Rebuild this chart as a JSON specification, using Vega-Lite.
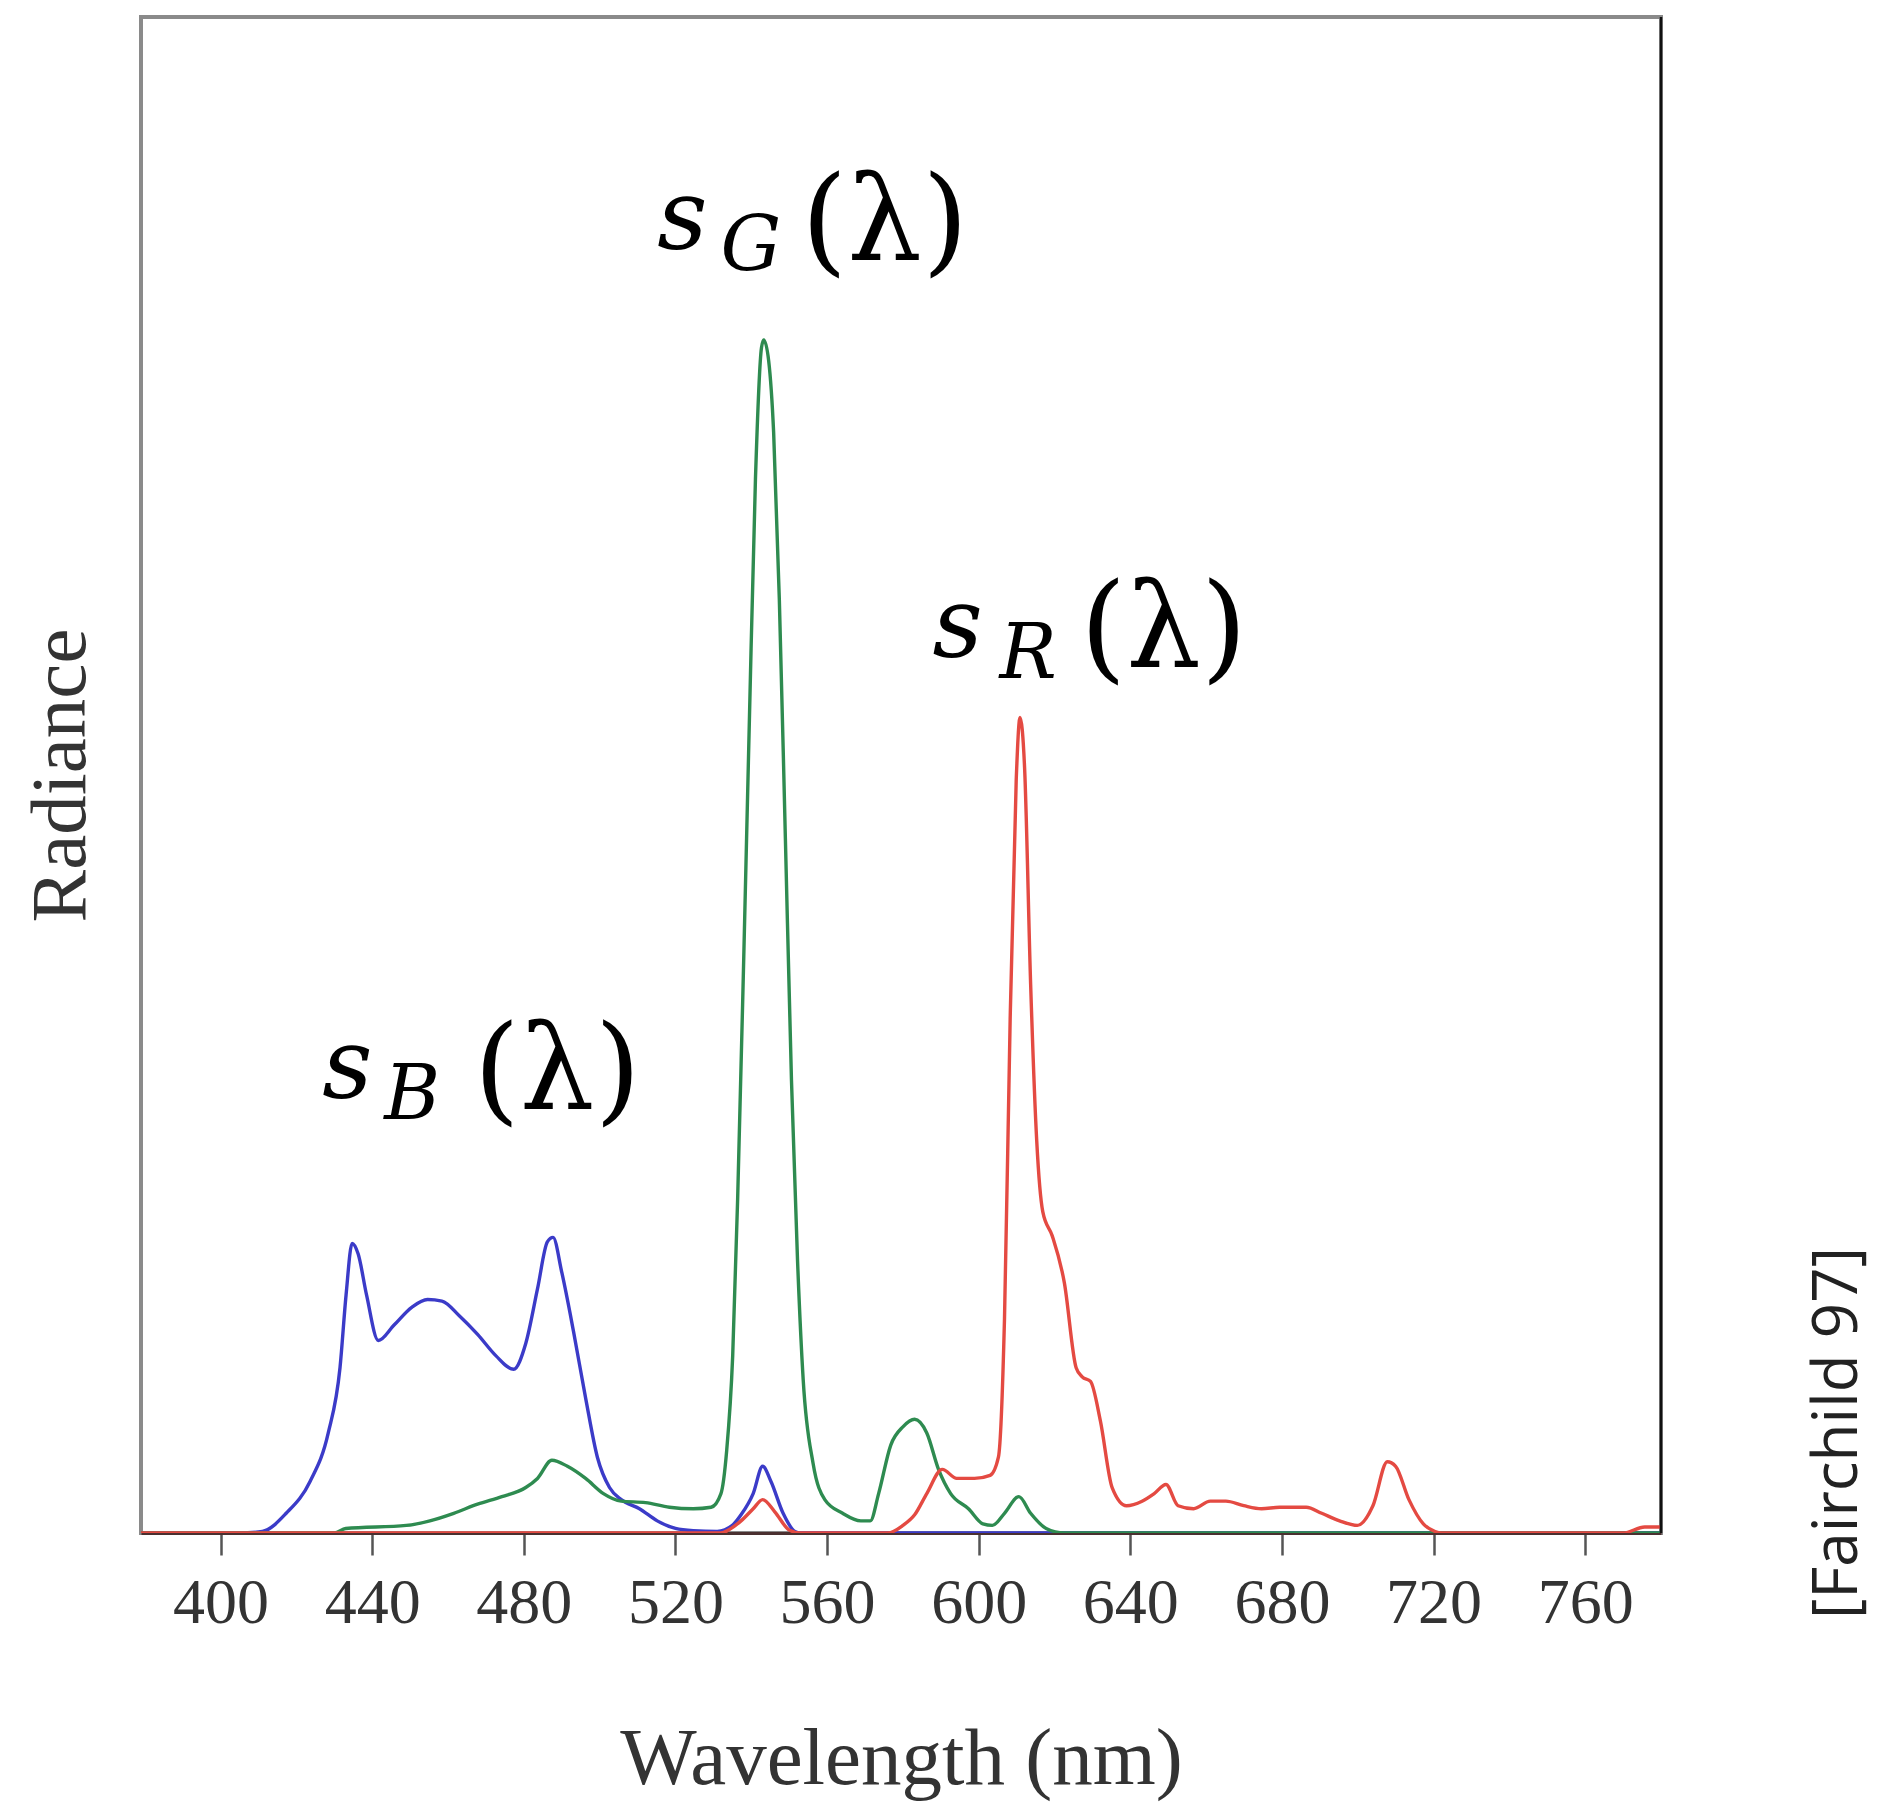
{
  "$schema": "https://vega.github.io/schema/vega-lite/v6.json",
  "autosize": {"type": "none"},
  "padding": {"left": 141, "top": 17, "right": 217, "bottom": 274},
  "width": 1520,
  "height": 1516,
  "background": "white",
  "config": {
    "view": {"stroke": "#8a8a8a", "strokeWidth": 4},
    "font": "Liberation Serif"
  },
  "datasets": {
    "spectra": [
      {"nm": 379, "val": 0, "s": "sB"}, {"nm": 405, "val": 0, "s": "sB"}, {"nm": 411, "val": 0.1, "s": "sB"}, {"nm": 417.3, "val": 1.3, "s": "sB"}, {"nm": 423.6, "val": 3.4, "s": "sB"}, {"nm": 428.4, "val": 6.6, "s": "sB"}, {"nm": 431.5, "val": 10.9, "s": "sB"}, {"nm": 433.1, "val": 15.7, "s": "sB"}, {"nm": 434.7, "val": 19.1, "s": "sB"}, {"nm": 436.3, "val": 18.4, "s": "sB"}, {"nm": 438.5, "val": 15.7, "s": "sB"}, {"nm": 441.6, "val": 12.7, "s": "sB"}, {"nm": 445.7, "val": 13.7, "s": "sB"}, {"nm": 450.5, "val": 14.9, "s": "sB"}, {"nm": 454.6, "val": 15.4, "s": "sB"}, {"nm": 458.4, "val": 15.3, "s": "sB"}, {"nm": 463.1, "val": 14.3, "s": "sB"}, {"nm": 467.8, "val": 13.1, "s": "sB"}, {"nm": 472.6, "val": 11.7, "s": "sB"}, {"nm": 477.3, "val": 10.8, "s": "sB"}, {"nm": 480.5, "val": 12.5, "s": "sB"}, {"nm": 483.6, "val": 16.1, "s": "sB"}, {"nm": 486.2, "val": 19.2, "s": "sB"}, {"nm": 487.7, "val": 19.5, "s": "sB"}, {"nm": 490, "val": 17.2, "s": "sB"}, {"nm": 493.1, "val": 13.3, "s": "sB"}, {"nm": 496.3, "val": 8.9, "s": "sB"}, {"nm": 499.4, "val": 5.0, "s": "sB"}, {"nm": 502.6, "val": 3.0, "s": "sB"}, {"nm": 505.7, "val": 2.2, "s": "sB"}, {"nm": 510.5, "val": 1.6, "s": "sB"}, {"nm": 515.2, "val": 0.8, "s": "sB"}, {"nm": 520, "val": 0.3, "s": "sB"}, {"nm": 524.7, "val": 0.15, "s": "sB"}, {"nm": 531, "val": 0.1, "s": "sB"}, {"nm": 535, "val": 0.5, "s": "sB"}, {"nm": 537.3, "val": 1.2, "s": "sB"}, {"nm": 540.5, "val": 2.6, "s": "sB"}, {"nm": 543, "val": 4.4, "s": "sB"}, {"nm": 545.2, "val": 3.4, "s": "sB"}, {"nm": 548.4, "val": 1.3, "s": "sB"}, {"nm": 551.5, "val": 0.1, "s": "sB"}, {"nm": 553, "val": 0, "s": "sB"}, {"nm": 780, "val": 0, "s": "sB"},

      {"nm": 379, "val": 0, "s": "sG"}, {"nm": 430, "val": 0, "s": "sG"}, {"nm": 433, "val": 0.3, "s": "sG"}, {"nm": 449, "val": 0.5, "s": "sG"}, {"nm": 455.2, "val": 0.8, "s": "sG"}, {"nm": 461.5, "val": 1.3, "s": "sG"}, {"nm": 467.8, "val": 1.9, "s": "sG"}, {"nm": 474.2, "val": 2.4, "s": "sG"}, {"nm": 480.5, "val": 3.0, "s": "sG"}, {"nm": 483.6, "val": 3.6, "s": "sG"}, {"nm": 487.4, "val": 4.8, "s": "sG"}, {"nm": 491.5, "val": 4.4, "s": "sG"}, {"nm": 496.3, "val": 3.6, "s": "sG"}, {"nm": 501, "val": 2.6, "s": "sG"}, {"nm": 505.7, "val": 2.1, "s": "sG"}, {"nm": 512.1, "val": 2.0, "s": "sG"}, {"nm": 518.4, "val": 1.7, "s": "sG"}, {"nm": 524.7, "val": 1.6, "s": "sG"}, {"nm": 529.4, "val": 1.7, "s": "sG"}, {"nm": 532, "val": 2.6, "s": "sG"}, {"nm": 533.5, "val": 5.4, "s": "sG"}, {"nm": 535.1, "val": 11.7, "s": "sG"}, {"nm": 536.4, "val": 22, "s": "sG"}, {"nm": 538, "val": 37.8, "s": "sG"}, {"nm": 539.5, "val": 53.6, "s": "sG"}, {"nm": 541.1, "val": 69.5, "s": "sG"}, {"nm": 542.7, "val": 78.2, "s": "sG"}, {"nm": 543.3, "val": 78.7, "s": "sG"}, {"nm": 544.6, "val": 77.3, "s": "sG"}, {"nm": 545.9, "val": 72.6, "s": "sG"}, {"nm": 547.4, "val": 61.6, "s": "sG"}, {"nm": 549, "val": 45.8, "s": "sG"}, {"nm": 550.6, "val": 29.9, "s": "sG"}, {"nm": 552.2, "val": 18, "s": "sG"}, {"nm": 553.7, "val": 10.1, "s": "sG"}, {"nm": 556.3, "val": 4.6, "s": "sG"}, {"nm": 559.4, "val": 2.2, "s": "sG"}, {"nm": 564.1, "val": 1.3, "s": "sG"}, {"nm": 568.9, "val": 0.8, "s": "sG"}, {"nm": 571.4, "val": 0.8, "s": "sG"}, {"nm": 573.6, "val": 2.6, "s": "sG"}, {"nm": 576.8, "val": 5.8, "s": "sG"}, {"nm": 580, "val": 7.0, "s": "sG"}, {"nm": 583.1, "val": 7.5, "s": "sG"}, {"nm": 586.3, "val": 6.6, "s": "sG"}, {"nm": 589.4, "val": 4.2, "s": "sG"}, {"nm": 592.6, "val": 2.6, "s": "sG"}, {"nm": 597.3, "val": 1.6, "s": "sG"}, {"nm": 601.1, "val": 0.6, "s": "sG"}, {"nm": 603.6, "val": 0.5, "s": "sG"}, {"nm": 606.8, "val": 1.3, "s": "sG"}, {"nm": 610.6, "val": 2.4, "s": "sG"}, {"nm": 613.7, "val": 1.3, "s": "sG"}, {"nm": 617.8, "val": 0.3, "s": "sG"}, {"nm": 622.6, "val": 0, "s": "sG"}, {"nm": 780, "val": 0, "s": "sG"},

      {"nm": 379, "val": 0, "s": "sR"}, {"nm": 532, "val": 0, "s": "sR"}, {"nm": 534, "val": 0.2, "s": "sR"}, {"nm": 537.3, "val": 0.8, "s": "sR"}, {"nm": 540.5, "val": 1.6, "s": "sR"}, {"nm": 543, "val": 2.2, "s": "sR"}, {"nm": 546.2, "val": 1.4, "s": "sR"}, {"nm": 550, "val": 0.2, "s": "sR"}, {"nm": 553, "val": 0, "s": "sR"}, {"nm": 576, "val": 0, "s": "sR"}, {"nm": 580, "val": 0.5, "s": "sR"}, {"nm": 583.1, "val": 1.2, "s": "sR"}, {"nm": 586.3, "val": 2.6, "s": "sR"}, {"nm": 590.4, "val": 4.2, "s": "sR"}, {"nm": 594.2, "val": 3.6, "s": "sR"}, {"nm": 598.9, "val": 3.6, "s": "sR"}, {"nm": 603, "val": 3.8, "s": "sR"}, {"nm": 605.2, "val": 5.0, "s": "sR"}, {"nm": 606.8, "val": 14.1, "s": "sR"}, {"nm": 608.3, "val": 33.9, "s": "sR"}, {"nm": 609.9, "val": 49.7, "s": "sR"}, {"nm": 610.9, "val": 53.8, "s": "sR"}, {"nm": 612.1, "val": 50.5, "s": "sR"}, {"nm": 613.7, "val": 36.2, "s": "sR"}, {"nm": 615.3, "val": 25.9, "s": "sR"}, {"nm": 616.9, "val": 21.2, "s": "sR"}, {"nm": 619.4, "val": 19.6, "s": "sR"}, {"nm": 622.6, "val": 16.5, "s": "sR"}, {"nm": 625.7, "val": 10.9, "s": "sR"}, {"nm": 627.3, "val": 10.3, "s": "sR"}, {"nm": 629.5, "val": 10.0, "s": "sR"}, {"nm": 632.1, "val": 7.4, "s": "sR"}, {"nm": 635.2, "val": 3.0, "s": "sR"}, {"nm": 639, "val": 1.8, "s": "sR"}, {"nm": 643.1, "val": 2.1, "s": "sR"}, {"nm": 646.3, "val": 2.6, "s": "sR"}, {"nm": 649.4, "val": 3.2, "s": "sR"}, {"nm": 652.6, "val": 1.8, "s": "sR"}, {"nm": 656.7, "val": 1.6, "s": "sR"}, {"nm": 661.1, "val": 2.1, "s": "sR"}, {"nm": 665.2, "val": 2.1, "s": "sR"}, {"nm": 669.9, "val": 1.8, "s": "sR"}, {"nm": 674.6, "val": 1.6, "s": "sR"}, {"nm": 679.4, "val": 1.7, "s": "sR"}, {"nm": 683.2, "val": 1.7, "s": "sR"}, {"nm": 686.4, "val": 1.7, "s": "sR"}, {"nm": 690.5, "val": 1.3, "s": "sR"}, {"nm": 695.2, "val": 0.8, "s": "sR"}, {"nm": 699.9, "val": 0.5, "s": "sR"}, {"nm": 704, "val": 1.8, "s": "sR"}, {"nm": 707.8, "val": 4.7, "s": "sR"}, {"nm": 710, "val": 4.4, "s": "sR"}, {"nm": 713.5, "val": 2.2, "s": "sR"}, {"nm": 717.3, "val": 0.6, "s": "sR"}, {"nm": 720.4, "val": 0.1, "s": "sR"}, {"nm": 722, "val": 0, "s": "sR"}, {"nm": 770, "val": 0, "s": "sR"}, {"nm": 775.7, "val": 0.4, "s": "sR"}, {"nm": 780, "val": 0.4, "s": "sR"}
    ],
    "labels": [
      {"nm": 515.2, "val": 84.7, "t": "s", "part": "base"},
      {"nm": 531.9, "val": 83.3, "t": "G", "part": "sub"},
      {"nm": 553.2, "val": 84.0, "t": "(λ)", "part": "arg"},
      {"nm": 587.8, "val": 57.8, "t": "s", "part": "base"},
      {"nm": 605.5, "val": 56.4, "t": "R", "part": "sub"},
      {"nm": 626.8, "val": 57.1, "t": "(λ)", "part": "arg"},
      {"nm": 426.8, "val": 28.7, "t": "s", "part": "base"},
      {"nm": 443.2, "val": 27.3, "t": "B", "part": "sub"},
      {"nm": 466.8, "val": 28.0, "t": "(λ)", "part": "arg"}
    ],
    "source": [
      {"nm": 826.8, "val": 6.6, "t": "[Fairchild 97]"}
    ],
    "frame": [
      {"nm": 780}
    ]
  },
  "encoding": {
    "x": {
      "field": "nm", "type": "quantitative",
      "scale": {"domain": [379, 780], "nice": false, "zero": false},
      "axis": {
        "title": "Wavelength (nm)",
        "values": [400, 440, 480, 520, 560, 600, 640, 680, 720, 760],
        "grid": false,
        "domainColor": "#4a3030", "domainWidth": 3,
        "tickColor": "#555555", "tickWidth": 2.5, "tickSize": 22,
        "labelFont": "Liberation Serif", "labelFontSize": 64, "labelColor": "#333333", "labelPadding": 16,
        "titleFont": "Liberation Serif", "titleFontSize": 81, "titleFontWeight": "normal", "titleColor": "#333333", "titlePadding": 84
      }
    },
    "y": {
      "field": "val", "type": "quantitative",
      "scale": {"domain": [0, 100], "nice": false},
      "axis": {
        "title": "Radiance", "labels": false, "ticks": false, "grid": false, "domain": false,
        "titleFont": "Liberation Serif", "titleFontSize": 79, "titleFontWeight": "normal", "titleColor": "#333333", "titlePadding": 40
      }
    }
  },
  "layer": [
    {
      "data": {"name": "spectra"},
      "mark": {"type": "line", "strokeWidth": 3.4, "interpolate": "monotone", "clip": true},
      "encoding": {
        "color": {
          "field": "s", "type": "nominal",
          "scale": {"domain": ["sB", "sG", "sR"], "range": ["#3b3bc8", "#2e8b50", "#e44a42"]},
          "legend": null
        },
        "order": {"field": "nm", "type": "quantitative"}
      }
    },
    {
      "data": {"name": "frame"},
      "mark": {"type": "rule", "color": "#111111", "strokeWidth": 2.5},
      "encoding": {
        "x": {"field": "nm", "type": "quantitative"},
        "y": {"value": 0},
        "y2": {"value": 1516}
      }
    },
    {
      "data": {"name": "labels"},
      "transform": [{"filter": "datum.part === 'base'"}],
      "mark": {"type": "text", "font": "DejaVu Serif", "fontStyle": "italic", "fontSize": 98, "align": "left", "baseline": "alphabetic", "color": "#000000"},
      "encoding": {"text": {"field": "t"}}
    },
    {
      "data": {"name": "labels"},
      "transform": [{"filter": "datum.part === 'sub'"}],
      "mark": {"type": "text", "font": "DejaVu Serif", "fontStyle": "italic", "fontSize": 76, "align": "left", "baseline": "alphabetic", "color": "#000000"},
      "encoding": {"text": {"field": "t"}}
    },
    {
      "data": {"name": "labels"},
      "transform": [{"filter": "datum.part === 'arg'"}],
      "mark": {"type": "text", "font": "DejaVu Serif", "fontSize": 118, "align": "left", "baseline": "alphabetic", "color": "#000000"},
      "encoding": {"text": {"field": "t"}}
    },
    {
      "data": {"name": "source"},
      "mark": {"type": "text", "font": "Open Sans", "fontSize": 62, "angle": 270, "align": "center", "baseline": "middle", "color": "#222222", "clip": false},
      "encoding": {"text": {"field": "t"}}
    }
  ]
}
